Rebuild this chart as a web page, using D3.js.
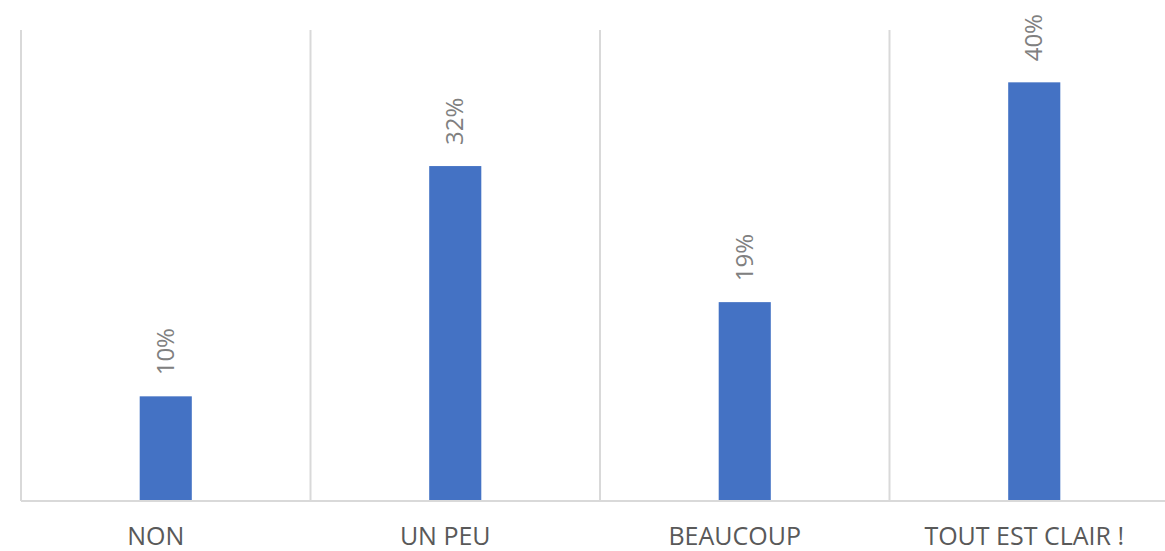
<!DOCTYPE html>
<html>
<head>
<meta charset="utf-8">
<script src="https://cdn.jsdelivr.net/npm/d3@7"></script>
<style>
  body { margin: 0; background: #fff; }
  svg { display: block; font-family: "Open Sans", "Liberation Sans", sans-serif; }
</style>
</head>
<body>
<div id="chart"></div>
<script>
var categories = ["NON", "UN PEU", "BEAUCOUP", "TOUT EST CLAIR !"];
var values = [10, 32, 19, 40];

var width = 1165, height = 551;
var margin = {top: 30, right: -14, bottom: 50, left: 21};
var innerW = width - margin.left - margin.right,
    innerH = height - margin.top - margin.bottom;

var svg = d3.select('#chart')
  .append('svg')
    .attr('width', width)
    .attr('height', height);

var g = svg.append('g')
    .attr('transform', 'translate(' + margin.left + ',' + margin.top + ')');

var x = d3.scaleBand()
    .domain(categories)
    .range([0, innerW]);

var y = d3.scaleLinear()
    .domain([0, 45])
    .range([innerH, 0]);

// vertical separators between categories
g.selectAll('.sep')
  .data(categories)
  .enter().append('line')
    .attr('x1', d => x(d))
    .attr('x2', d => x(d))
    .attr('y1', 0)
    .attr('y2', innerH)
    .attr('stroke', '#d9d9d9')
    .attr('stroke-width', 2);

var bw = x.bandwidth() * 0.18;
g.selectAll('.bar')
  .data(values)
  .enter().append('rect')
    .attr('x', (d, i) => x(categories[i]) + x.bandwidth() / 2 - bw / 2)
    .attr('y', d => y(d))
    .attr('width', bw)
    .attr('height', d => innerH - y(d))
    .attr('fill', '#4472c4');

// baseline
g.append('line')
    .attr('x1', 0).attr('x2', innerW)
    .attr('y1', innerH).attr('y2', innerH)
    .attr('stroke', '#d9d9d9')
    .attr('stroke-width', 2);

// value labels, rotated
g.selectAll('.lbl')
  .data(values)
  .enter().append('text')
    .attr('transform', (d, i) => 'translate(' + (x(categories[i]) + x.bandwidth() / 2 + 8) + ',' + (y(d) - 21) + ') rotate(-90)')
    .attr('text-anchor', 'start')
    .attr('font-size', 24)
    .attr('fill', '#808080')
    .text(d => d + '%');

// category axis labels
g.selectAll('.cat')
  .data(categories)
  .enter().append('text')
    .attr('x', d => x(d) + x.bandwidth() / 2 - 10)
    .attr('y', innerH + 44)
    .attr('text-anchor', 'middle')
    .attr('font-size', 25)
    .attr('fill', '#595959')
    .text(d => d);
</script>
</body>
</html>
